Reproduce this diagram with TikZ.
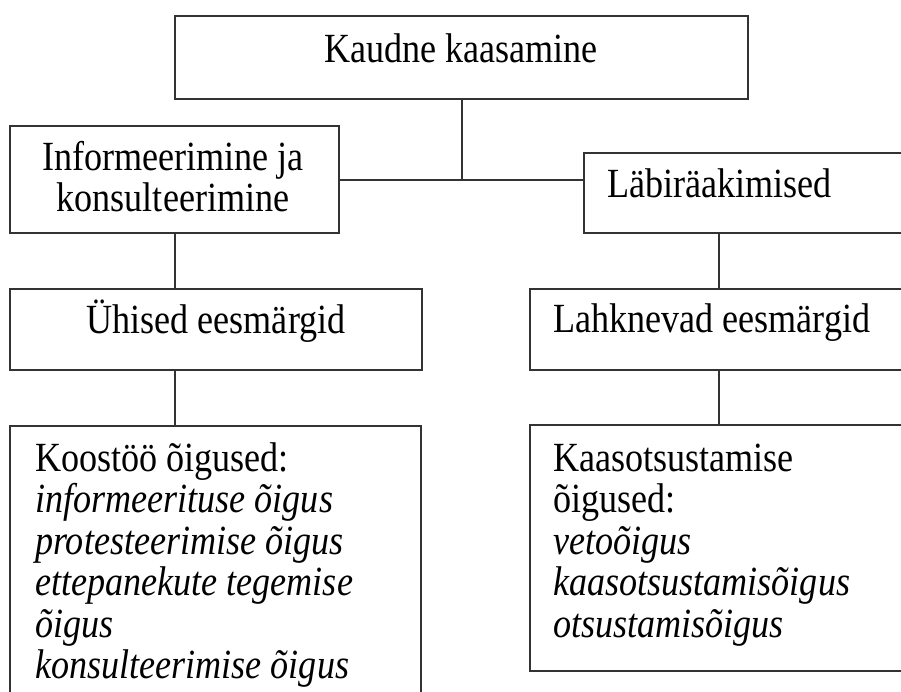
\documentclass[tikz,border=0pt]{standalone}
\usepackage{fontspec}
\setmainfont{Liberation Serif}[FakeStretch=0.87]
\newcommand\mylblfont{\fontsize{41.5}{41.5}\selectfont}
\begin{document}
\begin{tikzpicture}[x=1pt,y=-1pt,
  box/.style={draw=black!80, line width=2pt, rectangle, inner sep=0pt, anchor=north west},
  lbl/.style={inner sep=0pt, font=\mylblfont, text=black},
  conn/.style={draw=black!80, line width=2pt}]
\clip (0,0) rectangle (901,691);
\useasboundingbox (0,0) rectangle (901,691);
\fill[white] (0,0) rectangle (901,691);
% boxes
\node[box, minimum width=573pt, minimum height=83pt] (top) at (174,15) {};
\node[box, minimum width=329pt, minimum height=107pt] (inf) at (9,125) {};
\node[box, minimum width=327pt, minimum height=80pt] (lab) at (583,152) {};
\node[box, minimum width=412pt, minimum height=81pt] (ueh) at (9,288) {};
\node[box, minimum width=381pt, minimum height=81pt] (lah) at (529,288) {};
\node[box, minimum width=411pt, minimum height=300pt] (bl) at (9,425) {};
\node[box, minimum width=381pt, minimum height=246pt] (br) at (529,424) {};
% texts
\node[lbl, anchor=base] (ttop) at (461,62) {Kaudne kaasamine};
\node[lbl, anchor=base, text width=320pt, align=flush center] (tinf) at (173,170) {Informeerimine ja\\konsulteerimine};
\node[lbl, anchor=base west] (tlab) at (607,197) {Läbiräakimised};
\node[lbl, anchor=base] (tueh) at (216,333) {Ühised eesmärgid};
\node[lbl, anchor=base west] (tlah) at (553,332) {Lahknevad eesmärgid};
\node[lbl, anchor=base west, text width=380pt, align=flush left] (tbl) at (35,471) {Koostöö õigused:\\\textit{informeerituse õigus}\\\textit{protesteerimise õigus}\\\textit{ettepanekute tegemise}\\\textit{õigus}\\\textit{konsulteerimise õigus}};
\node[lbl, anchor=base west, text width=340pt, align=flush left] (tbr) at (553,471) {Kaasotsustamise\\õigused:\\\textit{vetoõigus}\\\textit{kaasotsustamisõigus}\\\textit{otsustamisõigus}};
% connectors
\coordinate (rx) at (719,0);
\draw[conn] (top.south) -- (top.south |- inf.east);
\draw[conn] (inf.east) -- (inf.east -| lab.west);
\draw[conn] (inf.south) -- (inf.south |- ueh.north);
\draw[conn] (ueh.south -| inf.south) -- (inf.south |- bl.north);
\draw[conn] (rx |- lab.south) -- (rx |- lah.north);
\draw[conn] (rx |- lah.south) -- (rx |- br.north);
\end{tikzpicture}
\end{document}
